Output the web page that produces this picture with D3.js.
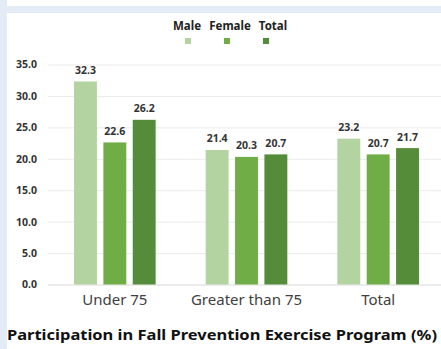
<!DOCTYPE html>
<html>
<head>
<meta charset="utf-8">
<script src="https://cdn.jsdelivr.net/npm/d3@7/dist/d3.min.js"></script>
<style>
  html, body { margin: 0; padding: 0; background: #ffffff; }
  svg { display: block; }
</style>
</head>
<body>
<svg id="chart" width="441" height="349"></svg>
<script>
// Participation rates (%) by age group and sex
const groups = ["Under 75", "Greater than 75", "Total"];
const seriesNames = ["Male", "Female", "Total"];
const male = [32.3, 21.4, 23.2];
const female = [22.6, 20.3, 20.7];
const total = [26.2, 20.7, 21.7];
const yTicks = [0, 5, 10, 15, 20, 25, 30, 35];
const colors = ["#b3d3a1", "#70ad47", "#558c3a"];
const title = "Participation in Fall Prevention Exercise Program (%)";

const seriesValues = [male, female, total];
const rows = groups.map((g, i) => ({
  group: g,
  values: seriesNames.map((s, j) => ({ key: s, value: seriesValues[j][i], idx: j }))
}));

const svg = d3.select("#chart");
const W = 441, H = 349;
const font = "'Noto Sans', 'Open Sans', sans-serif";

// page frame: light-blue strips around the white panel
svg.append("rect").attr("x", 0).attr("y", 0).attr("width", W).attr("height", H).attr("fill", "#ffffff");
svg.append("rect").attr("x", 0).attr("y", 0).attr("width", 7).attr("height", H).attr("fill", "#e3ebf6");
svg.append("rect").attr("x", 7).attr("y", 6).attr("width", W - 7).attr("height", 7).attr("fill", "#e3ebf6");

// scales
const x0 = d3.scaleBand().domain(groups).range([49, 444]).paddingInner(0.38).paddingOuter(0.19);
const x1 = d3.scaleBand().domain(seriesNames).range([0, x0.bandwidth()]).paddingInner(0.22).paddingOuter(0);
const y = d3.scaleLinear().domain([0, 35]).range([284.5, 64.5]);

// gridlines + y labels
const yAxis = d3.axisLeft(y).tickValues(yTicks).tickFormat(d3.format(".1f")).tickSize(-(W - 48)).tickPadding(11);
const gy = svg.append("g").attr("transform", "translate(48,0)").call(yAxis);
gy.select(".domain").remove();
gy.selectAll(".tick line").attr("stroke", (d) => d === 0 ? "#d9d9d9" : "#ebebeb").attr("stroke-width", 1);
gy.selectAll(".tick text")
  .attr("font-family", font).attr("font-weight", "bold").attr("font-size", 10.5)
  .attr("fill", "#333333");

// bars
const g = svg.append("g").selectAll("g").data(rows).join("g")
  .attr("transform", d => `translate(${x0(d.group)},0)`);

g.selectAll("rect").data(d => d.values).join("rect")
  .attr("x", d => x1(d.key))
  .attr("y", d => y(d.value))
  .attr("width", x1.bandwidth())
  .attr("height", d => y(0) - y(d.value))
  .attr("fill", d => colors[d.idx]);

// value labels
g.selectAll("text.val").data(d => d.values).join("text")
  .attr("class", "val")
  .attr("x", d => x1(d.key) + x1.bandwidth() / 2)
  .attr("y", d => y(d.value) - 7.5)
  .attr("text-anchor", "middle")
  .attr("font-family", font).attr("font-weight", "bold").attr("font-size", 10.5)
  .attr("fill", "#333333")
  .text(d => d3.format(".1f")(d.value));

// x axis labels
const xAxis = d3.axisBottom(x0).tickSize(0).tickPadding(0);
const gx = svg.append("g").attr("transform", "translate(0,289)").call(xAxis);
gx.select(".domain").remove();
gx.selectAll(".tick text")
  .attr("dy", "0")
  .attr("y", 16)
  .attr("font-family", font).attr("font-size", 15).attr("fill", "#404040");

// legend
const legendX = [187, 230, 273];
const legendSq = [188, 227, 266];
const lg = svg.append("g");
seriesNames.forEach((s, i) => {
  lg.append("text").attr("x", legendX[i]).attr("y", 30)
    .attr("text-anchor", "middle")
    .attr("font-family", font).attr("font-weight", "bold").attr("font-size", 11.5)
    .attr("fill", "#222222").text(s);
  lg.append("rect").attr("x", legendSq[i] - 3).attr("y", 38).attr("width", 6).attr("height", 6)
    .attr("fill", colors[i]);
});

// chart title below the plot
svg.append("text").attr("x", 222).attr("y", 340)
  .attr("text-anchor", "middle")
  .attr("font-family", font).attr("font-weight", "bold").attr("font-size", 15)
  .attr("textLength", 430).attr("lengthAdjust", "spacingAndGlyphs")
  .attr("fill", "#111111").text(title);
</script>
</body>
</html>
